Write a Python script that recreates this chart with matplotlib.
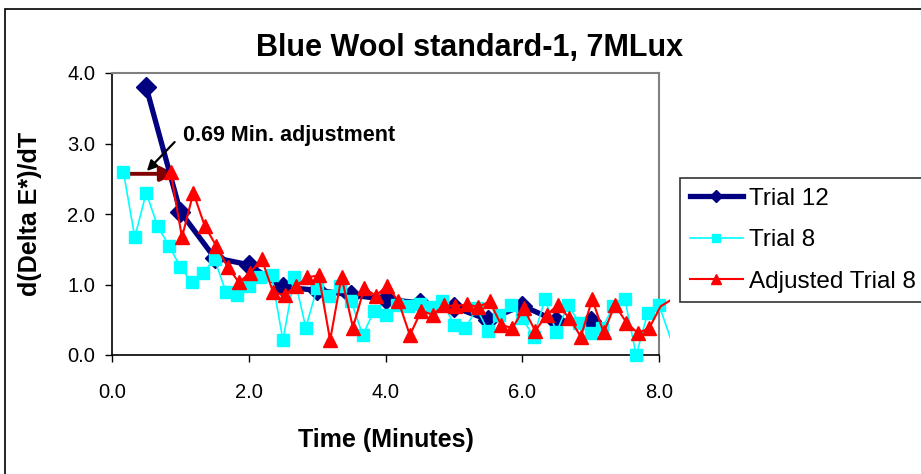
import numpy as np
import matplotlib.pyplot as plt
from matplotlib.lines import Line2D
from matplotlib.patches import Rectangle

plt.rcParams['font.family'] = ['Liberation Sans', 'DejaVu Sans']

# Trial 12: one reading every half minute
trial12_t = [0.5, 1.0, 1.5, 2.0, 2.5, 3.0, 3.5, 4.0, 4.5, 5.0, 5.5, 6.0, 6.5, 7.0]
trial12_v = [3.80, 2.03, 1.38, 1.28, 0.96, 0.92, 0.85, 0.79, 0.74, 0.68, 0.50, 0.70, 0.48, 0.48]

# Trial 8: one reading every 10 s
trial8_t = np.arange(1, 50) / 6.0
trial8_v = [2.60, 1.67, 2.30, 1.83, 1.55, 1.25, 1.03, 1.17, 1.36, 0.89,
            0.85, 0.98, 1.10, 1.13, 0.21, 1.11, 0.39, 0.95, 0.84, 0.98,
            0.76, 0.28, 0.63, 0.57, 0.71, 0.69, 0.72, 0.68, 0.76, 0.43,
            0.38, 0.66, 0.34, 0.57, 0.71, 0.52, 0.26, 0.79, 0.32, 0.71,
            0.46, 0.31, 0.38, 0.69, 0.79, 0.00, 0.59, 0.71, 0.24]

shift = 0.69  # min
adj_t = trial8_t + shift
adj_v = trial8_v

x_ticks = [0.0, 2.0, 4.0, 6.0, 8.0]
y_ticks = [0.0, 1.0, 2.0, 3.0, 4.0]

fig = plt.figure(figsize=(9.21, 4.74), dpi=100)
ax = fig.add_axes([112 / 921, 1 - 355 / 474, 547 / 921, 282 / 474])

# lines run a little past the right edge of the plot area, markers stop at 8.0
clip = Rectangle((0, -0.05), 1.02, 1.1, transform=ax.transAxes)

series = [
    (trial12_t, trial12_v, '#000080', 3.8, 'D', 10, 3, 'Trial 12', 6),
    (trial8_t, trial8_v, '#00FFFF', 1.2, 's', 8, 4, 'Trial 8', 5.5),
    (adj_t, adj_v, '#FF0000', 1.5, '^', 9.5, 5, 'Adjusted Trial 8', 7),
]
handles = []
for t, v, c, lw, m, ms, z, lab, lms in series:
    t = np.asarray(t)
    v = np.asarray(v)
    ln, = ax.plot(t, v, color=c, lw=lw, zorder=z)
    ln.set_clip_path(clip)
    keep = t <= 8.0 + 1e-6
    ax.plot(t[keep], v[keep], ls='none', marker=m, ms=ms, color=c,
            mec=c, zorder=z, clip_on=False)
    handles.append(Line2D([], [], color=c, lw=lw, marker=m, ms=lms, mec=c, label=lab))

# adjustment arrow from first Trial 8 point to first adjusted point
ax.annotate('', xy=(adj_t[0] + 0.07, adj_v[0] - 0.03), xytext=(trial8_t[0], trial8_v[0] - 0.03),
            arrowprops=dict(arrowstyle='-|>', color='#800000', lw=2.8,
                            mutation_scale=22, shrinkA=0, shrinkB=0), zorder=2)
ax.annotate('0.69 Min. adjustment', xy=(0.51, 2.61), xytext=(1.04, 3.11),
            fontsize=15.5, fontweight='bold', va='center', ha='left',
            arrowprops=dict(arrowstyle='-|>', color='black', lw=1.6,
                            mutation_scale=15, shrinkA=0, shrinkB=0,
                            relpos=(-0.04, 0.2)), zorder=6)

ax.set_xlim(0, 8)
ax.set_ylim(0, 4)
ax.set_xticks(x_ticks)
ax.set_xticklabels([f'{x:.1f}' for x in x_ticks], fontsize=14.5)
ax.set_yticks(y_ticks)
ax.set_yticklabels([f'{y:.1f}' for y in y_ticks], fontsize=14.5)
ax.tick_params(axis='x', direction='out', length=5, width=1, pad=15)
ax.tick_params(axis='y', direction='out', length=5, width=1, pad=7)

for side in ['top', 'right']:
    ax.spines[side].set_color('#808080')
    ax.spines[side].set_linewidth(1.5)
for side in ['left', 'bottom']:
    ax.spines[side].set_color('black')
    ax.spines[side].set_linewidth(1.2)

ax.set_xlabel('Time (Minutes)', fontsize=18, fontweight='bold', labelpad=19)
ax.set_ylabel('d(Delta E*)/dT', fontsize=18, fontweight='bold', labelpad=18)
fig.text(470 / 921, 1 - 48 / 474, 'Blue Wool standard-1, 7MLux',
         fontsize=22, fontweight='bold', ha='center', va='center')

leg = fig.legend(handles=handles, loc='upper left',
                 bbox_to_anchor=(680 / 921, 1 - 178 / 474),
                 fontsize=17.5, frameon=True, fancybox=False, shadow=False,
                 handlelength=2.2, handletextpad=0.25, labelspacing=0.8,
                 borderpad=0.4, borderaxespad=0)
leg.get_frame().set_edgecolor('black')
leg.get_frame().set_linewidth(1.2)

# chart border
fig.add_artist(Rectangle((5 / 921, -0.1), 1.0, 1 - 9 / 474 + 0.1,
                         transform=fig.transFigure, fill=False,
                         ec='black', lw=1.2))

fig.savefig('out.png', dpi=100)
